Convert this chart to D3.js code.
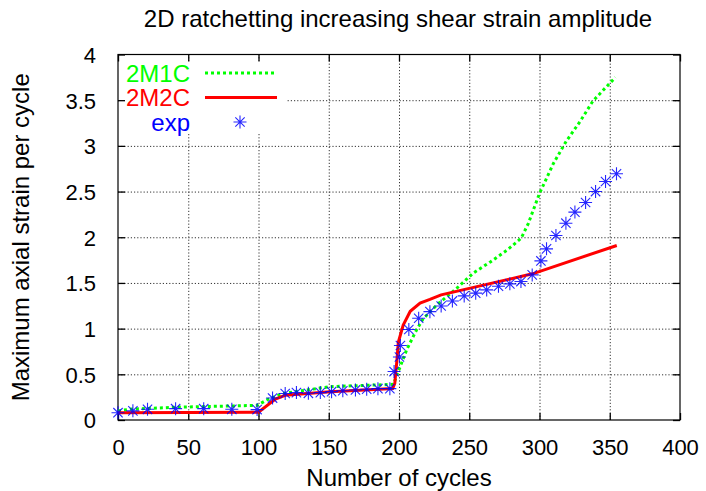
<!DOCTYPE html>
<html>
<head>
<meta charset="utf-8">
<script src="https://cdn.jsdelivr.net/npm/d3@7"></script>
<style>
  body { margin: 0; background: #fff; }
  svg { display: block; }
  text { font-family: "Liberation Sans", Arial, Helvetica, sans-serif; }
</style>
</head>
<body>
<svg id="chart" width="706" height="491"></svg>
<script>
// ---------- data ----------
const title = "2D ratchetting increasing shear strain amplitude";
const xLabel = "Number of cycles";
const yLabel = "Maximum axial strain per cycle";
const xTicks = [0, 50, 100, 150, 200, 250, 300, 350, 400];
const yTicks = [0, 0.5, 1, 1.5, 2, 2.5, 3, 3.5, 4];
const yTickLabels = ["0", "0.5", "1", "1.5", "2", "2.5", "3", "3.5", "4"];

// 2M1C (green dotted)
const m1cX = [0, 10, 42, 99, 106, 117, 151, 196, 197.5, 199.5, 205.5, 212.6, 217.3, 227, 241, 253, 265, 277, 287, 292, 300, 310, 319, 329, 338, 354];
const m1cY = [0.10, 0.12, 0.14, 0.16, 0.22, 0.29, 0.365, 0.39, 0.45, 0.53, 0.77, 0.99, 1.11, 1.26, 1.44, 1.61, 1.73, 1.86, 1.99, 2.15, 2.48, 2.81, 3.05, 3.27, 3.49, 3.75];

// 2M2C (red solid)
const m2cX = [0, 100, 112, 119, 151, 195.5, 197, 198.5, 199.5, 203, 208, 215, 222, 230, 295, 355];
const m2cY = [0.08, 0.085, 0.23, 0.27, 0.31, 0.345, 0.40, 0.65, 0.85, 1.04, 1.19, 1.28, 1.32, 1.37, 1.60, 1.91];

// exp (blue asterisks)
const expX = [0, 10.6, 21, 41, 61, 81, 99, 110, 119, 127, 135.5, 144, 152, 160, 169, 177, 185, 193.5, 196.5, 200.3, 201, 207, 214, 222, 230, 238, 246.4, 254.6, 262.4, 270.8, 278.9, 286.8, 294.8, 301, 305, 311.7, 318.8, 325.2, 332.8, 339.9, 347, 354.8];
const expY = [0.08, 0.10, 0.117, 0.124, 0.124, 0.117, 0.114, 0.24, 0.29, 0.30, 0.292, 0.30, 0.31, 0.32, 0.329, 0.336, 0.343, 0.343, 0.53, 0.69, 0.815, 0.99, 1.113, 1.186, 1.248, 1.303, 1.358, 1.388, 1.424, 1.464, 1.49, 1.515, 1.588, 1.741, 1.873, 2.019, 2.154, 2.275, 2.38, 2.50, 2.61, 2.695];

const seriesNames = ["2M1C", "2M2C", "exp"];
const seriesColors = ["#00ff00", "#ff0000", "#0000ff"];

// ---------- layout ----------
const svg = d3.select("#chart");
const L = 118, R = 680, T = 54.5, B = 420;
const x = d3.scaleLinear().domain([0, 400]).range([L, R]);
const y = d3.scaleLinear().domain([0, 4]).range([B, T]);

// grid (drawn through d3 axes with full-length ticks)
const gridX = svg.append("g").attr("transform", `translate(0,${B})`)
  .call(d3.axisBottom(x).tickValues(xTicks.slice(1, -1)).tickSize(-(B - T)).tickFormat(""));
const gridY = svg.append("g").attr("transform", `translate(${L},0)`)
  .call(d3.axisLeft(y).tickValues(yTicks.slice(1, -1)).tickSize(-(R - L)).tickFormat(""));
[gridX, gridY].forEach(g => {
  g.select(".domain").remove();
  g.selectAll(".tick line").attr("stroke", "#333").attr("stroke-width", 1)
    .attr("stroke-dasharray", "1.2,2");
});

// legend background hides the grid behind the key
const legY = [73, 97.5, 122];
svg.append("rect").attr("x", L + 1).attr("y", 61).attr("width", 168).attr("height", 73).attr("fill", "#fff");

// axes with inward ticks (mirrored)
const tl = 7;
const axB = svg.append("g").attr("transform", `translate(0,${B})`)
  .call(d3.axisBottom(x).tickValues(xTicks).tickSize(-tl).tickPadding(tl + 12));
const axT = svg.append("g").attr("transform", `translate(0,${T})`)
  .call(d3.axisTop(x).tickValues(xTicks).tickSize(-tl).tickFormat(""));
const axL = svg.append("g").attr("transform", `translate(${L},0)`)
  .call(d3.axisLeft(y).tickValues(yTicks).tickSize(-tl).tickPadding(tl + 15).tickFormat((d, i) => yTickLabels[i]));
const axR = svg.append("g").attr("transform", `translate(${R},0)`)
  .call(d3.axisRight(y).tickValues(yTicks).tickSize(-tl).tickFormat(""));
[axB, axT, axL, axR].forEach(a => {
  a.select(".domain").remove();
  a.selectAll(".tick line").attr("stroke", "#000").attr("stroke-width", 1.3);
});
axB.selectAll(".tick text").attr("font-size", 22).attr("fill", "#000")
  .attr("font-family", "Liberation Sans, Arial, sans-serif").attr("dy", "0.71em");
axL.selectAll(".tick text").attr("font-size", 22).attr("fill", "#000")
  .attr("font-family", "Liberation Sans, Arial, sans-serif").attr("dy", "0.36em");

// frame
svg.append("rect").attr("x", L).attr("y", T).attr("width", R - L).attr("height", B - T)
  .attr("fill", "none").attr("stroke", "#000").attr("stroke-width", 1.2);

// lines
const line = d3.line().x(d => x(d[0])).y(d => y(d[1]));
const m1c = m1cX.map((v, i) => [v, m1cY[i]]);
const m2c = m2cX.map((v, i) => [v, m2cY[i]]);
const exp = expX.map((v, i) => [v, expY[i]]);

svg.append("path").datum(m1c).attr("d", line).attr("fill", "none")
  .attr("stroke", seriesColors[0]).attr("stroke-width", 3).attr("stroke-dasharray", "3,3");
svg.append("path").datum(m2c).attr("d", line).attr("fill", "none")
  .attr("stroke", seriesColors[1]).attr("stroke-width", 3);

function star(g, cx, cy, r) {
  const d = r * 0.72;
  g.append("path")
    .attr("d", `M${cx - r},${cy}H${cx + r}M${cx},${cy - r}V${cy + r}M${cx - d},${cy - d}L${cx + d},${cy + d}M${cx - d},${cy + d}L${cx + d},${cy - d}`)
    .attr("stroke", seriesColors[2]).attr("stroke-width", 1.1).attr("fill", "none").attr("stroke-opacity", 0.85);
}
const ptsG = svg.append("g");
exp.forEach(p => star(ptsG, x(p[0]), y(p[1]), 6.5));

// legend
const lg = svg.append("g");
seriesNames.forEach((n, i) => {
  lg.append("text").attr("x", 190).attr("y", legY[i]).attr("dy", "0.36em")
    .attr("text-anchor", "end").attr("font-size", 24).attr("fill", seriesColors[i]).text(n);
});
lg.append("line").attr("x1", 205).attr("x2", 277).attr("y1", legY[0]).attr("y2", legY[0])
  .attr("stroke", seriesColors[0]).attr("stroke-width", 3).attr("stroke-dasharray", "3,3");
lg.append("line").attr("x1", 205).attr("x2", 277).attr("y1", legY[1]).attr("y2", legY[1])
  .attr("stroke", seriesColors[1]).attr("stroke-width", 3);
star(lg, 240, legY[2], 6.5);

// titles
svg.append("text").attr("x", 398).attr("y", 26.5).attr("text-anchor", "middle")
  .attr("font-size", 24).attr("fill", "#000").text(title);
svg.append("text").attr("x", 399).attr("y", 486).attr("text-anchor", "middle")
  .attr("font-size", 24).attr("fill", "#000").text(xLabel);
svg.append("text").attr("transform", `translate(29,${(T + B) / 2}) rotate(-90)`)
  .attr("text-anchor", "middle").attr("font-size", 24).attr("fill", "#000").text(yLabel);
</script>
</body>
</html>
